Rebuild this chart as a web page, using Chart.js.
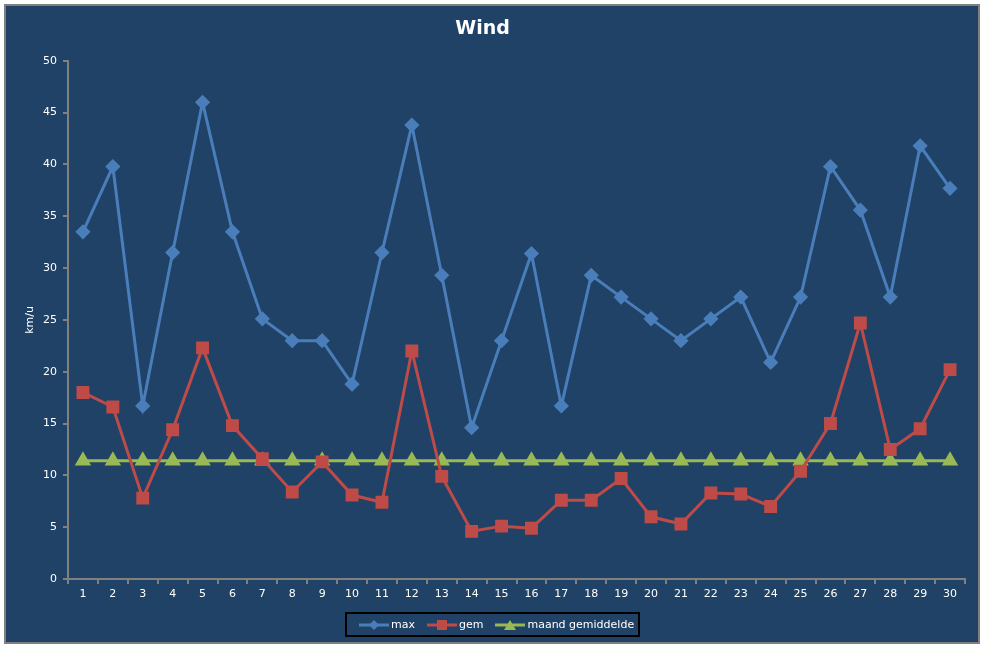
<!DOCTYPE html>
<html>
<head>
<meta charset="utf-8">
<script src="https://cdn.jsdelivr.net/npm/chart.js@4"></script>
<style>
  html, body { margin: 0; padding: 0; background: #ffffff; }
  #frame {
    position: absolute; left: 4px; top: 4px; width: 972px; height: 636px;
    border: 2px solid #808080; background: #1F4266;
  }
  #wrap { position: absolute; left: 0; top: 0; width: 987px; height: 648px; }
  #legend {
    position: absolute; left: 345px; top: 612px; width: 291px; height: 21px;
    border: 2px solid #000000; font: 11px "DejaVu Sans", sans-serif; color: #ffffff;
    display: flex; align-items: center;
  }
  #legend span.item { display: inline-flex; align-items: center; margin-left: 12px; }
  #legend svg { margin-right: 2px; }
</style>
</head>
<body>
<div id="frame"></div>
<div id="wrap"><canvas id="myChart"></canvas></div>
<div id="legend"></div>
<script>
// dagen van de maand
const dagen = ['1','2','3','4','5','6','7','8','9','10','11','12','13','14','15',
  '16','17','18','19','20','21','22','23','24','25','26','27','28','29','30'];

// windsnelheid in km/u
const maxWind = [33.5, 39.8, 16.7, 31.5, 46.0, 33.5, 25.1, 23.0, 23.0, 18.8,
  31.5, 43.8, 29.3, 14.6, 23.0, 31.4, 16.7, 29.3, 27.2, 25.1,
  23.0, 25.1, 27.2, 20.9, 27.2, 39.8, 35.6, 27.2, 41.8, 37.7];
const gemWind = [18.0, 16.6, 7.8, 14.4, 22.3, 14.8, 11.6, 8.4, 11.3, 8.1,
  7.4, 22.0, 9.9, 4.6, 5.1, 4.9, 7.6, 7.6, 9.7, 6.0,
  5.3, 8.3, 8.2, 7.0, 10.4, 15.0, 24.7, 12.5, 14.5, 20.2];
const maandGem = dagen.map(() => 11.4);

const yTicks = [0, 5, 10, 15, 20, 25, 30, 35, 40, 45, 50];

const blauw = '#4A7EBB', rood = '#BE4B48', groen = '#98B954';
const grijs = '#808080';
const tekstFont = { family: 'DejaVu Sans', size: 11 };

function renderChart() {
  const ctx = document.getElementById('myChart').getContext('2d');
  new Chart(ctx, {
    type: 'line',
    data: {
      labels: dagen,
      datasets: [
        { label: 'max', data: maxWind, borderColor: blauw, backgroundColor: blauw,
          borderWidth: 3, pointStyle: 'rectRot', pointRadius: 5.5, pointHoverRadius: 5.5 },
        { label: 'gem', data: gemWind, borderColor: rood, backgroundColor: rood,
          borderWidth: 3, pointStyle: 'rect', pointRadius: 7, pointHoverRadius: 7 },
        { label: 'maand gemiddelde', data: maandGem, borderColor: groen, backgroundColor: groen,
          borderWidth: 3, pointStyle: 'triangle', pointRadius: 6.5, pointHoverRadius: 6.5 }
      ]
    },
    options: {
      responsive: false,
      animation: false,
      maintainAspectRatio: false,
      layout: { padding: { left: 0, right: 22, top: 0, bottom: 0 } },
      plugins: {
        legend: { display: false },
        tooltip: { enabled: false },
        title: {
          display: true, text: 'Wind', color: '#ffffff',
          font: { family: 'DejaVu Sans', size: 19, weight: 'bold', lineHeight: 1.2 },
          padding: { top: 18, bottom: 20 }
        }
      },
      scales: {
        x: {
          offset: true,
          grid: { display: true, offset: true, drawOnChartArea: false, color: grijs, lineWidth: 2, tickLength: 5 },
          border: { display: true, color: grijs, width: 2 },
          ticks: { color: '#ffffff', font: tekstFont, padding: 4, maxRotation: 0, autoSkip: false },
          afterFit: (s) => { s.height = 69; }
        },
        y: {
          min: 0, max: 50,
          afterBuildTicks: (s) => { s.ticks = yTicks.map(v => ({ value: v })); },
          grid: { display: true, drawOnChartArea: false, color: grijs, lineWidth: 2, tickLength: 5 },
          border: { display: true, color: grijs, width: 2 },
          ticks: { color: '#ffffff', font: tekstFont, padding: 6 },
          title: { display: true, text: 'km/u', color: '#ffffff', font: tekstFont, padding: { top: 24, bottom: 0 } },
          afterFit: (s) => { s.width = 68; }
        }
      }
    }
  });
}

function legendIcon(kleur, vorm) {
  let marker = '';
  if (vorm === 'ruit') marker = `<polygon points="15,0 20,5 15,10 10,5" fill="${kleur}"/>`;
  if (vorm === 'vierkant') marker = `<rect x="10" y="0" width="10" height="10" fill="${kleur}"/>`;
  if (vorm === 'driehoek') marker = `<polygon points="15,0 21,10 9,10" fill="${kleur}"/>`;
  return `<svg width="30" height="10"><line x1="0" y1="5" x2="30" y2="5" stroke="${kleur}" stroke-width="3"/>${marker}</svg>`;
}

function renderLegend() {
  const items = [['max', blauw, 'ruit'], ['gem', rood, 'vierkant'], ['maand gemiddelde', groen, 'driehoek']];
  document.getElementById('legend').innerHTML = items.map(([t, k, v]) =>
    `<span class="item">${legendIcon(k, v)}${t}</span>`).join('');
}

const canvas = document.getElementById('myChart');
canvas.width = 987; canvas.height = 648;
canvas.style.width = '987px'; canvas.style.height = '648px';
renderChart();
renderLegend();
</script>
</body>
</html>
